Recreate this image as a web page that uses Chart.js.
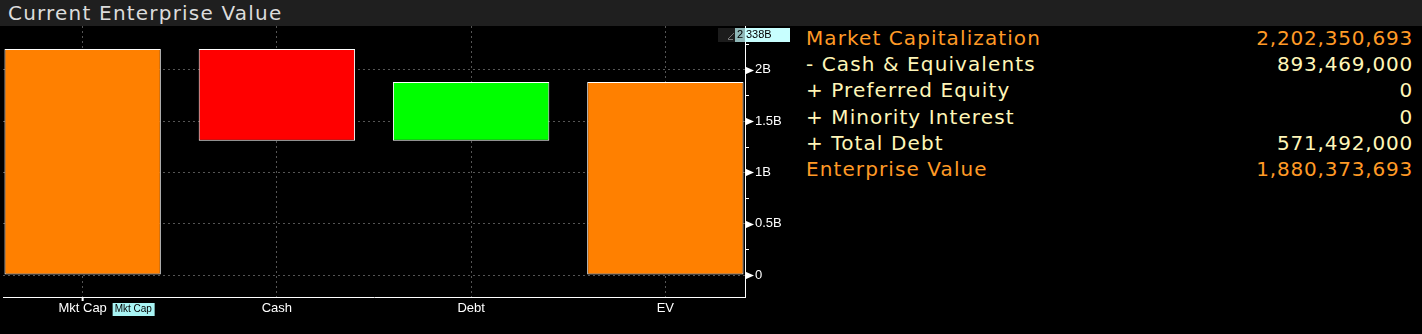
<!DOCTYPE html>
<html>
<head>
<meta charset="utf-8">
<script src="https://cdn.jsdelivr.net/npm/chart.js@4.4.1/dist/chart.umd.min.js"></script>
<style>
  body { margin: 0; width: 1422px; height: 334px; background: #000; overflow: hidden; font-family: "DejaVu Sans", sans-serif; }
  #title { position: absolute; left: 0; top: 0; width: 1422px; height: 26px; background: #1f1f1f; }
  #title span { position: absolute; left: 8px; top: 1px; font-size: 20px; letter-spacing: 1.2px; color: #dcdcdc; }
  #wrap { position: absolute; left: 0; top: 26px; width: 800px; height: 308px; }
  .row { position: absolute; left: 806px; width: 606px; height: 26px; font-size: 20px; line-height: 26px; letter-spacing: 1.1px; }
  .row .lab { position: absolute; left: 0; }
  .row .val { position: absolute; right: -1px; letter-spacing: 0.8px; }
</style>
</head>
<body>
<div id="title"><span>Current Enterprise Value</span></div>
<div id="wrap"><canvas id="chart" width="800" height="308"></canvas></div>
<div id="table"></div>
<script>
// bar categories and values
const categories = ["Mkt Cap", "Cash", "Debt", "EV"];
const mktCap = 2202350693;
const cash = 893469000;
const debt = 571492000;
const ev = 1880373693;
const barColors = ["#ff8000", "#ff0000", "#00ff00", "#ff8000"];
const lastValueTag = 2.338e9;

// right side table
const tableLabels = ["Market Capitalization", "- Cash & Equivalents", "+ Preferred Equity", "+ Minority Interest", "+ Total Debt", "Enterprise Value"];
const tableValues = ["2,202,350,693", "893,469,000", "0", "0", "571,492,000", "1,880,373,693"];
const tableColors = ["#ff9a26", "#fff6b8", "#fff6b8", "#fff6b8", "#fff6b8", "#ff9a26"];

const table = document.getElementById("table");
tableLabels.forEach((lab, i) => {
    const row = document.createElement("div");
    row.className = "row";
    row.style.top = (25 + i * 26.2) + "px";
    row.style.color = tableColors[i];
    row.innerHTML = '<span class="lab"></span><span class="val"></span>';
    row.querySelector(".lab").textContent = lab;
    row.querySelector(".val").textContent = tableValues[i];
    table.appendChild(row);
});

// waterfall ranges, in billions for the axis
const B = 1e9;
const afterCash = mktCap - cash;
const ranges = [
    [0, mktCap],
    [afterCash, mktCap],
    [afterCash, afterCash + debt],
    [0, ev]
];
const points = ranges.map((r, i) => ({ x: i, y: [r[0] / B, r[1] / B] }));

const tickFont = { family: "'Liberation Sans Narrow', 'Liberation Sans', sans-serif", size: 13 };

function isMajor(v) {
    return Math.abs(v / 0.5 - Math.round(v / 0.5)) < 1e-6;
}

function fmtB(v) {
    if (Math.abs(v) < 1e-9) return "0";
    return (+v.toFixed(3)) + "B";
}

const decorations = {
    id: "decorations",
    afterDraw(c) {
        const ctx = c.ctx;
        const ys = c.scales.y;
        const xs = c.scales.x;
        const right = c.chartArea.right;
        ctx.save();
        ctx.fillStyle = "#ffffff";
        ctx.strokeStyle = "#ffffff";
        ctx.lineWidth = 1;
        ys.ticks.forEach(t => {
            const y = Math.round(ys.getPixelForValue(t.value)) + 0.5;
            if (isMajor(t.value)) {
                ctx.beginPath();
                ctx.moveTo(right, y - 4);
                ctx.lineTo(right + 9, y);
                ctx.lineTo(right, y + 4);
                ctx.closePath();
                ctx.fill();
            } else {
                ctx.beginPath();
                ctx.moveTo(right, y);
                ctx.lineTo(right + 4, y);
                ctx.stroke();
            }
        });

        // last value tag
        const tagText = fmtB(lastValueTag / B);
        const ty = Math.round(ys.getPixelForValue(lastValueTag / B));
        ctx.fillStyle = "#1c1c1c";
        ctx.fillRect(right - 27, ty - 7, 27, 14);
        ctx.strokeStyle = "#777";
        ctx.beginPath();
        ctx.moveTo(right - 17, ty + 4);
        ctx.lineTo(right - 11, ty - 2);
        ctx.moveTo(right - 17, ty + 4.5);
        ctx.lineTo(right - 12, ty + 4.5);
        ctx.stroke();
        ctx.fillStyle = "#8fb7b7";
        ctx.fillRect(right - 10, ty - 7, 10, 14);
        ctx.fillStyle = "#c8ffff";
        ctx.fillRect(right, ty - 7, 45, 14);
        ctx.fillStyle = "#000";
        ctx.font = "11px 'Liberation Sans Narrow', 'Liberation Sans', sans-serif";
        ctx.textBaseline = "middle";
        ctx.textAlign = "left";
        ctx.fillText(tagText.charAt(0), right - 8, ty);
        ctx.fillText(tagText.slice(2), right + 1, ty);

        // highlighted category tag
        const bottom = c.chartArea.bottom;
        const cx = xs.getPixelForValue(0);
        ctx.strokeStyle = "#ffffff";
        ctx.lineWidth = 2;
        ctx.beginPath();
        ctx.moveTo(cx, bottom);
        ctx.lineTo(cx, bottom + 4);
        ctx.stroke();
        ctx.fillStyle = "#a8f4f4";
        ctx.fillRect(cx + 30, bottom + 6, 42, 13);
        ctx.fillStyle = "#000";
        ctx.font = "10px 'Liberation Sans Narrow', 'Liberation Sans', sans-serif";
        ctx.fillText(categories[0], cx + 32, bottom + 12.5);
        ctx.restore();
    }
};

new Chart(document.getElementById("chart").getContext("2d"), {
    type: "bar",
    data: {
        datasets: [{
            data: points,
            backgroundColor: barColors,
            borderColor: "#ffffff",
            borderWidth: 1,
            borderSkipped: false,
            barPercentage: 1,
            categoryPercentage: 0.805
        }]
    },
    options: {
        responsive: false,
        animation: false,
        devicePixelRatio: 1,
        layout: { padding: { left: 3, top: 0, right: 0, bottom: 0 } },
        plugins: {
            legend: { display: false },
            tooltip: { enabled: false }
        },
        scales: {
            x: {
                type: "linear",
                offset: false,
                min: -0.41,
                max: 3.41,
                afterFit: s => { s.height = 37; s.paddingLeft = 0; s.paddingRight = 0; },
                ticks: {
                    stepSize: 1,
                    includeBounds: false,
                    color: "#ffffff",
                    font: tickFont,
                    padding: 4,
                    maxRotation: 0,
                    callback: v => categories[v]
                },
                grid: { color: "#555555", drawTicks: false, offset: false },
                border: { color: "#ffffff", width: 1, dash: [2, 3] }
            },
            y: {
                position: "right",
                min: -0.2144,
                max: 2.4269,
                afterFit: s => { s.width = 55; s.paddingTop = 0; s.paddingBottom = 0; },
                ticks: {
                    stepSize: 0.25,
                    includeBounds: false,
                    autoSkip: false,
                    color: "#ffffff",
                    font: tickFont,
                    padding: 10,
                    callback: v => (isMajor(v) ? fmtB(v) : "")
                },
                grid: {
                    drawTicks: false,
                    color: c => (c.tick && isMajor(c.tick.value) ? "#555555" : "rgba(0,0,0,0)")
                },
                border: { color: "#ffffff", width: 1, dash: [2, 3] }
            }
        }
    },
    plugins: [decorations]
});
</script>
</body>
</html>
